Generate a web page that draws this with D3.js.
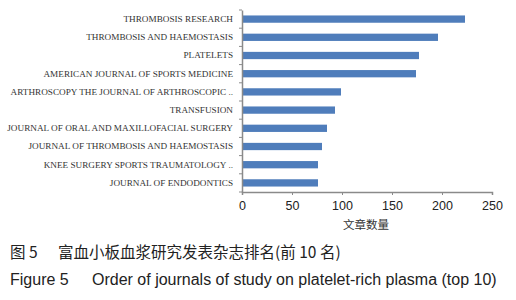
<!DOCTYPE html>
<html>
<head>
<meta charset="utf-8">
<script src="https://cdn.jsdelivr.net/npm/d3@7"></script>
<style>
  body { margin: 0; background: #fff; }
</style>
</head>
<body>
<svg id="chart" width="516" height="300"></svg>
<script>
var journals = [
    "THROMBOSIS RESEARCH",
    "THROMBOSIS AND HAEMOSTASIS",
    "PLATELETS",
    "AMERICAN JOURNAL  OF SPORTS MEDICINE",
    "ARTHROSCOPY THE JOURNAL  OF ARTHROSCOPIC ..",
    "TRANSFUSION",
    "JOURNAL OF ORAL AND MAXILLOFACIAL SURGERY",
    "JOURNAL  OF THROMBOSIS AND HAEMOSTASIS",
    "KNEE SURGERY SPORTS TRAUMATOLOGY ..",
    "JOURNAL  OF ENDODONTICS"
];
var counts = [223, 196, 177, 174, 99, 93, 85, 80, 76, 76];
var xTicks = [0, 50, 100, 150, 200, 250];

var svg = d3.select("#chart");

var x = d3.scaleLinear().domain([0, 250]).range([242, 492]);
var y = d3.scaleBand().domain(journals).range([10, 192]).paddingInner(0.6).paddingOuter(0.3);

// bars
svg.selectAll("rect.bar")
    .data(journals)
    .enter()
    .append("rect")
    .attr("class", "bar")
    .attr("x", x(0))
    .attr("y", d => y(d))
    .attr("width", (d, i) => x(counts[i]) - x(0))
    .attr("height", y.bandwidth())
    .attr("fill", "#4f7dbb");

// x axis
var xAxis = svg.append("g")
    .attr("transform", "translate(0,192)")
    .call(d3.axisBottom(x).tickValues(xTicks).tickSize(3).tickPadding(6));
xAxis.select(".domain").attr("stroke", "#8a8a8a").attr("stroke-width", 1.5);
xAxis.selectAll(".tick line").attr("stroke", "#8a8a8a");
xAxis.selectAll("text")
    .attr("font-family", "Liberation Sans, Arial, sans-serif")
    .attr("font-size", 12.5)
    .attr("fill", "#222");

// y axis
var yAxis = svg.append("g")
    .attr("transform", "translate(242,0)")
    .call(d3.axisLeft(y).tickSize(0).tickPadding(9));
yAxis.select(".domain").attr("stroke", "#8a8a8a").attr("stroke-width", 1.5);
yAxis.selectAll("text")
    .attr("font-family", "Liberation Serif, Times New Roman, serif")
    .attr("font-size", 9.2)
    .attr("fill", "#333");

// small separators between categories on the left axis
svg.selectAll("line.sep")
    .data(d3.range(journals.length + 1))
    .enter()
    .append("line")
    .attr("class", "sep")
    .attr("x1", 239).attr("x2", 242)
    .attr("y1", i => 10 + i * (182 / journals.length))
    .attr("y2", i => 10 + i * (182 / journals.length))
    .attr("stroke", "#8a8a8a");

// axis title
svg.append("text")
    .attr("x", 366)
    .attr("y", 229)
    .attr("text-anchor", "middle")
    .attr("font-family", "Noto Sans CJK SC, serif")
    .attr("font-size", 11.5)
    .attr("fill", "#333")
    .text("文章数量");

// caption
svg.append("text")
    .attr("x", 10)
    .attr("y", 258)
    .attr("font-family", "Noto Sans CJK SC, sans-serif")
    .attr("font-size", 15.5)
    .attr("fill", "#222")
    .text("图 5")
    .append("tspan")
    .attr("x", 58)
    .text("富血小板血浆研究发表杂志排名(前 10 名)");

svg.append("text")
    .attr("x", 10)
    .attr("y", 285)
    .attr("font-family", "Liberation Sans, Arial, sans-serif")
    .attr("font-size", 16)
    .attr("fill", "#222")
    .text("Figure 5")
    .append("tspan")
    .attr("x", 92)
    .text("Order of journals of study on platelet-rich plasma (top 10)");
</script>
</body>
</html>
